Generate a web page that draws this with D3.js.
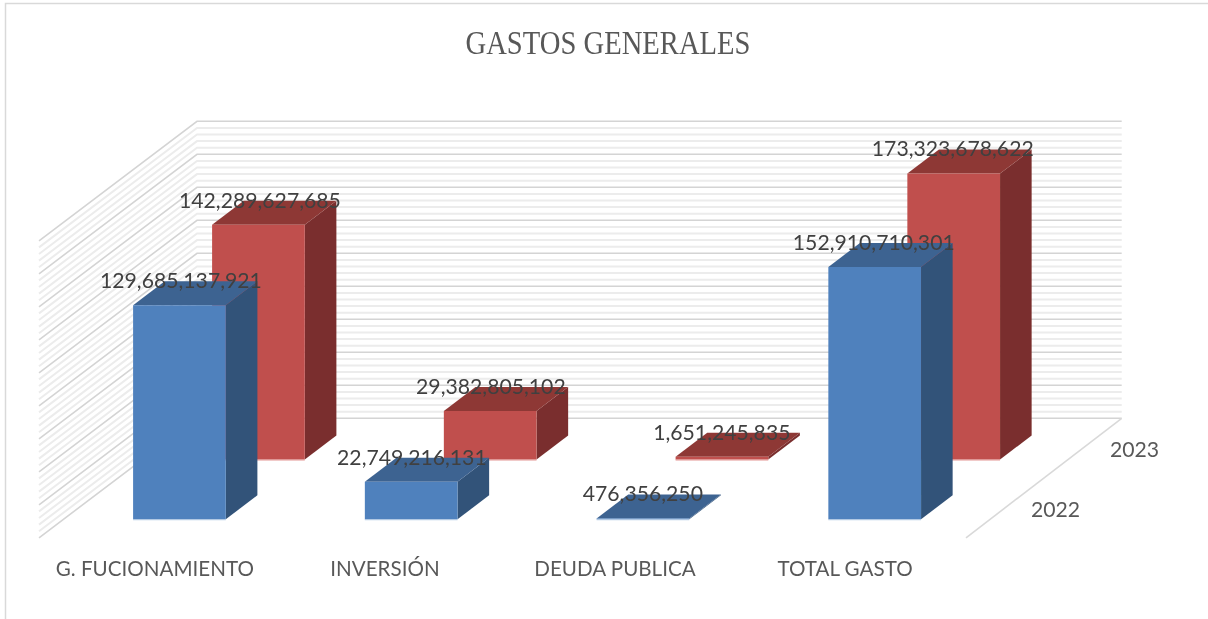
<!DOCTYPE html>
<html>
<head>
<meta charset="utf-8">
<script src="https://cdn.jsdelivr.net/npm/d3@7"></script>
<style>
html,body{margin:0;padding:0;background:#fff;overflow:hidden}
svg{display:block}
</style>
</head>
<body>
<svg id="chart" width="1208" height="619"></svg>
<script>
const title = "GASTOS GENERALES";
const categories = ["G. FUCIONAMIENTO", "INVERSIÓN", "DEUDA PUBLICA", "TOTAL GASTO"];
const seriesNames = ["2022", "2023"];
const values2022 = [129685137921, 22749216131, 476356250, 152910710301];
const values2023 = [142289627685, 29382805102, 1651245835, 173323678622];
const axisMax = 180e9;
const majorStep = 20e9;
const minorStep = 4e9;

const W = 1208, H = 619;
const root = d3.select("#chart");
const defs = root.append("defs");
defs.append("filter").attr("id", "soft").attr("x", 0).attr("y", 0).attr("width", 1).attr("height", 1)
  .attr("filterUnits", "objectBoundingBox")
  .append("feGaussianBlur").attr("stdDeviation", 0.45);
root.append("rect").attr("width", W).attr("height", H).attr("fill", "#fff");
const svg = root.append("g").attr("filter", "url(#soft)");
svg.append("rect").attr("width", W).attr("height", H).attr("fill", "#fff");

// Projection set-up: x along the categories, y as value, z as depth
const x = d3.scaleBand().domain(categories).range([39, 966]);
const y = d3.scaleLinear().domain([0, axisMax]).range([537.8, 240.8]);
const z = d3.scaleBand().domain(seriesNames).range([0, 1]);
const depthX = 158, depthY = -119.5;
const P = (px, val, d) => [px + d * depthX, y(val) + d * depthY];
const pts = a => a.map(p => p.join(",")).join(" ");

// Frame
svg.append("path").attr("d", `M5.5,${H}V3.5H${W}`).attr("fill", "none").attr("stroke", "#d9d9d9").attr("stroke-width", 1.5);

// Title
svg.append("text").attr("x", 608).attr("y", 54).attr("text-anchor", "middle")
  .attr("font-family", "'Liberation Serif', serif").attr("font-size", 33).attr("fill", "#595959")
  .attr("textLength", 285).attr("lengthAdjust", "spacingAndGlyphs").text(title);

// Walls
const wall = svg.append("g").attr("fill", "none");
const x0 = x.range()[0], x1 = x.range()[1];
const backRight = v => { const p = P(x1, v, 1); return [p[0] - 2.3, p[1]]; };
function gridLines(stepVals, color, width) {
  const g = wall.append("g").attr("stroke", color).attr("stroke-width", width);
  stepVals.forEach(v => {
    g.append("polyline").attr("points", pts([P(x0, v, 0), P(x0, v, 1), backRight(v)]));
  });
}
gridLines(d3.range(0, axisMax + 1, minorStep).filter(v => v % majorStep !== 0), "#ececec", 2);
gridLines(d3.range(0, axisMax + 1, majorStep), "#d4d4d4", 1.6);
// Floor right edge
wall.append("line").attr("stroke", "#d9d9d9").attr("stroke-width", 1.6)
  .attr("x1", P(x1, 0, 0)[0]).attr("y1", P(x1, 0, 0)[1])
  .attr("x2", backRight(0)[0]).attr("y2", backRight(0)[1]);

// Bars
const barRatio = 0.4;
const styles = {
  "2022": {front: "#4f81bd", top: "#3e6391", side: "#315279", edge: "#a9c2e0"},
  "2023": {front: "#c0504d", top: "#8e3836", side: "#7a2f2d", edge: "#e08a88"}
};
const seriesData = {"2022": values2022, "2023": values2023};
const bars = svg.append("g");
const labels = [];
[...seriesNames].reverse().forEach(name => {
  const s = styles[name];
  const vals = seriesData[name];
  const d0 = z(name) + z.bandwidth() * 0.311;
  const d1 = z(name) + z.bandwidth() * 0.711;
  categories.forEach((c, i) => {
    const bw = x.bandwidth() * barRatio;
    const xa = x(c) + (x.bandwidth() - bw) / 2;
    const xb = xa + bw;
    const v = vals[i];
    const g = bars.append("g");
    g.append("polygon").attr("fill", s.side)
      .attr("points", pts([P(xb, 0, d0), P(xb, 0, d1), P(xb, v, d1), P(xb, v, d0)]));
    g.append("polygon").attr("fill", s.top)
      .attr("points", pts([P(xa, v, d0), P(xb, v, d0), P(xb, v, d1), P(xa, v, d1)]));
    g.append("polygon").attr("fill", s.front)
      .attr("points", pts([P(xa, 0, d0), P(xb, 0, d0), P(xb, v, d0), P(xa, v, d0)]));
    const bl = P(xa, 0, d0), br = P(xb, 0, d0);
    g.append("line").attr("stroke", s.edge).attr("stroke-width", 1)
      .attr("x1", bl[0]).attr("y1", bl[1] + 0.5).attr("x2", br[0]).attr("y2", br[1] + 0.5);
    const tp = P((xa + xb) / 2, v, d0);
    labels.push({x: tp[0] + 1.5 - i * 0.8, y: tp[1] - 17, text: d3.format(",")(v)});
  });
});

// Data labels
svg.append("g").selectAll("text").data(labels).join("text")
  .attr("x", d => d.x).attr("y", d => d.y).attr("text-anchor", "middle")
  .attr("font-family", "Lato, sans-serif").attr("font-size", 21.2).attr("fill", "#404040")
  .text(d => d.text);

// Category labels
svg.append("g").selectAll("text").data(categories).join("text")
  .attr("x", (d, i) => x(d) + x.bandwidth() / 2 - i * 1.7).attr("y", 576).attr("text-anchor", "middle")
  .attr("font-family", "Lato, sans-serif").attr("font-size", 20.6).attr("fill", "#595959")
  .text(d => d);

// Depth labels
svg.append("g").selectAll("text").data(seriesNames).join("text")
  .attr("x", d => P(x1, 0, z(d) + z.bandwidth() / 2)[0] + 50)
  .attr("y", d => P(x1, 0, z(d) + z.bandwidth() / 2)[1] + 9)
  .attr("text-anchor", "middle")
  .attr("font-family", "Lato, sans-serif").attr("font-size", 21.2).attr("fill", "#595959")
  .text(d => d);
</script>
</body>
</html>
